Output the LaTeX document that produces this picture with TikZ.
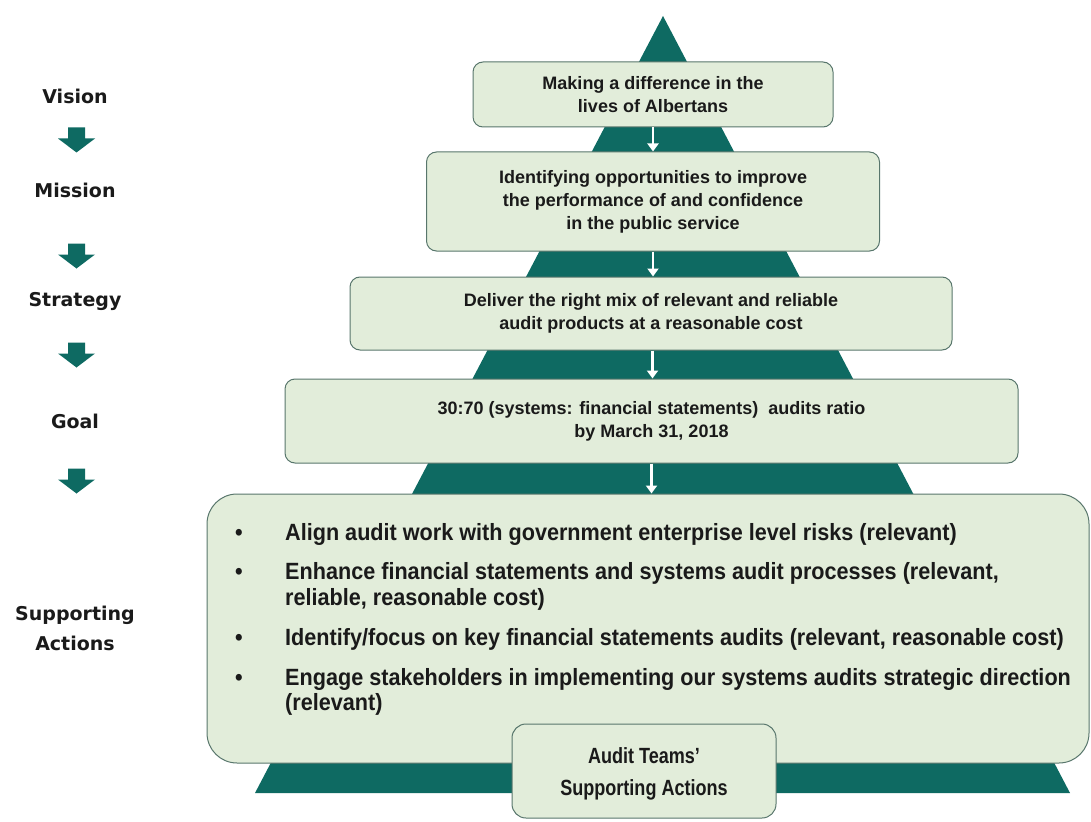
\documentclass[tikz,border=0pt]{standalone}
\usepackage{fontspec}
\setmainfont{Liberation Sans}
\newfontfamily\boxfont{Liberation Sans}
\newfontfamily\narrowfont[FakeStretch=0.82]{Liberation Sans}
\newfontfamily\listfont[FakeStretch=0.92]{Liberation Sans}
\newfontfamily\labelfont{DejaVu Sans}
\usetikzlibrary{arrows.meta}
\definecolor{pyrteal}{RGB}{14,106,98}
\definecolor{boxfill}{RGB}{226,237,218}
\definecolor{boxline}{RGB}{88,118,108}
\definecolor{ink}{RGB}{26,26,26}
% one bulleted action with its own hanging block
\newcommand\actionitem[1]{\makebox[50pt][l]{\textbullet}\parbox[t]{830pt}{\strut#1\strut}}
% a line of text set a little lower without changing its box
\newcommand\lowered[1]{\raisebox{-3pt}[\height][\depth]{#1}}
\tikzset{
  stagebox/.style={draw=boxline, line width=1pt, fill=boxfill, rounded corners=10pt,
    inner sep=0pt, align=center, text=ink,
    font=\boxfont\bfseries\fontsize{18}{23}\selectfont},
  bigbox/.style={draw=boxline, line width=1pt, fill=boxfill, rounded corners=30pt, inner sep=0pt},
  teambox/.style={draw=boxline, line width=1pt, fill=boxfill, rounded corners=14pt,
    inner sep=0pt, align=center, text=ink,
    font=\narrowfont\bfseries\fontsize{22}{32}\selectfont},
  sidelabel/.style={align=center, text=ink, inner sep=0pt,
    font=\labelfont\bfseries\fontsize{19}{30}\selectfont},
  flowarrow/.style={draw=white, line width=2.4pt, -{Triangle[length=8pt,width=11pt]}},
}
\begin{document}
\begin{tikzpicture}[x=1pt,y=-1pt]
\useasboundingbox (0,0) rectangle (1091,821);

% pyramid backdrop
\fill[pyrteal] (663,16) -- (1070,793) -- (255,793) -- cycle;

% stages of the pyramid
\node[stagebox, minimum width=360pt, minimum height=65pt] (vis) at (653,94.5)
  {Making a difference in the\\lives of Albertans};
\node[stagebox, minimum width=453pt, minimum height=99pt] (mis) at (653,201.5)
  {Identifying opportunities to improve\\the performance of and confidence\\in the public service};
\node[stagebox, minimum width=602pt, minimum height=73pt] (str) at (651,313.5)
  {Deliver the right mix of relevant and reliable\\audit products at a reasonable cost};
\node[stagebox, minimum width=733pt, minimum height=84pt] (goal) at (651.5,421)
  {30:70 (systems: financial statements) \ audits ratio\\by March 31, 2018};
\node[bigbox, minimum width=882pt, minimum height=269pt] (act) at (648,628.5) {};

% supporting actions list
\node[anchor=north west, inner sep=0pt, align=left, text=ink,
      font=\listfont\bfseries\fontsize{23.5}{25.5}\selectfont] (list) at (235,522) {%
  \actionitem{Align audit work with government enterprise level risks (relevant)}\\[14pt]
  \actionitem{Enhance financial statements and systems audit processes (relevant,\\reliable, reasonable cost)}\\[14pt]
  \actionitem{Identify/focus on key financial statements audits (relevant, reasonable cost)}\\[14pt]
  \actionitem{Engage stakeholders in implementing our systems audits strategic direction\\(relevant)}};

\node[teambox, minimum width=264pt, minimum height=94pt] (team) at (644,771)
  {\lowered{Audit Teams’}\\\lowered{Supporting Actions}};

% flow between stages
\draw[flowarrow] (vis.south) -- (vis.south |- mis.north);
\draw[flowarrow] (mis.south) -- (mis.south |- str.north);
\draw[flowarrow] ([xshift=1.5pt]str.south) -- ([xshift=1.5pt]str.south |- goal.north);
\draw[flowarrow] (goal.south) -- (goal.south |- act.north);

% left-hand ladder
\node[sidelabel] (lv) at (75,96) {Vision};
\node[sidelabel] (lm) at (75,190) {Mission};
\node[sidelabel] (ls) at (75,301) {Strategy};
\node[sidelabel] (lg) at (75,421) {Goal};
\node[sidelabel] (la) at (75,628) {Supporting\\Actions};
\foreach \yc in {140,256,355,481}{
  \fill[pyrteal] (68,\yc-12.5) -- (85,\yc-12.5) -- (85,\yc-1.5) -- (95,\yc-1.5)
    -- (76.5,\yc+12.5) -- (58,\yc-1.5) -- (68,\yc-1.5) -- cycle;
}
\end{tikzpicture}
\end{document}
